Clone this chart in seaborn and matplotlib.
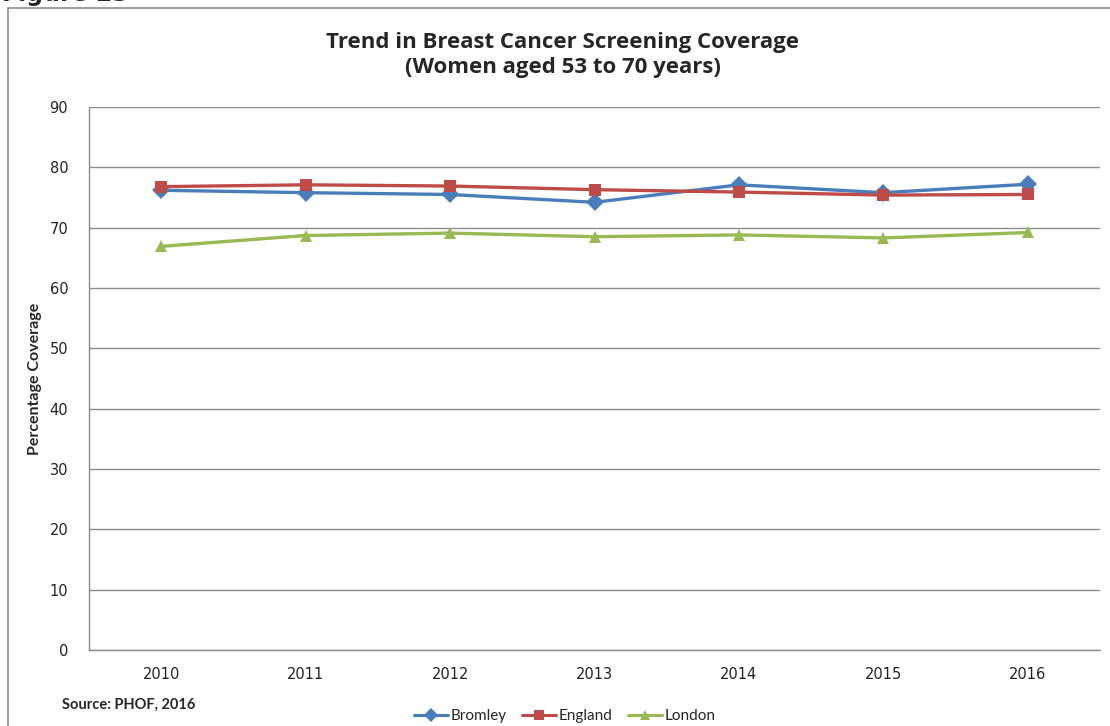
"""
Trend in breast cancer screening coverage, Bromley vs England vs London.
"""
import pandas as pd
import matplotlib.pyplot as plt
from matplotlib.patches import Rectangle
from matplotlib.ticker import FixedLocator
import seaborn as sns

years = [2010, 2011, 2012, 2013, 2014, 2015, 2016]
bromley = [76.2, 75.8, 75.5, 74.2, 77.1, 75.8, 77.2]
england = [76.8, 77.1, 76.9, 76.3, 75.9, 75.4, 75.5]
london = [66.9, 68.7, 69.1, 68.5, 68.8, 68.3, 69.2]
areas = ['Bromley', 'England', 'London']

df = pd.DataFrame({
    'year': years * 3,
    'coverage': bromley + england + london,
    'area': [a for a in areas for _ in years],
})

palette = {'Bromley': '#4A7EBB', 'England': '#BE4B48', 'London': '#98B954'}
markers = {'Bromley': 'D', 'England': 's', 'London': '^'}

sns.set_theme(style='white')
plt.rcParams['font.family'] = ['DejaVu Sans']

fig = plt.figure(figsize=(11.1, 7.26), dpi=100)
ax = fig.add_axes([89 / 1110, 1 - 650 / 726, (1100 - 89) / 1110, (650 - 107) / 726])

# outer chart frame, right/bottom edges fall outside the picture
fig.patches.append(Rectangle((8 / 1110, -0.05), 1.1, 1.05 - 8 / 726,
                             transform=fig.transFigure, fill=False,
                             edgecolor='#8c8c8c', linewidth=1.2))

sns.lineplot(data=df, x='year', y='coverage', hue='area', style='area',
             palette=palette, markers=markers, dashes=False, linewidth=2.4,
             markersize=9, markeredgewidth=0, ax=ax)

ax.set_xlim(2009.5, 2016.5)
ax.set_ylim(0, 90)
ax.set_yticks(range(0, 91, 10))
ax.set_xticks(years)
ax.set_xticklabels([str(y) for y in years])
ax.xaxis.set_minor_locator(FixedLocator([y - 0.5 for y in years] + [2016.5]))
ax.tick_params(axis='x', which='major', length=0, pad=12, labelsize=10.5, colors='#222222')
ax.tick_params(axis='x', which='minor', length=5, width=1, color='#8c8c8c', direction='out')
ax.tick_params(axis='y', which='major', length=5, width=1, color='#8c8c8c', direction='out',
               labelsize=10.5, colors='#222222', pad=10)
ax.grid(axis='y', color='#8c8c8c', linewidth=1)
ax.set_axisbelow(True)
for side in ['top', 'right']:
    ax.spines[side].set_visible(False)
for side in ['left', 'bottom']:
    ax.spines[side].set_color('#8c8c8c')
    ax.spines[side].set_linewidth(1)

ax.set_xlabel('')
ax.set_ylabel('Percentage Coverage', fontsize=11.5, fontweight='bold',
              family=['Lato', 'DejaVu Sans'])
ax.yaxis.set_label_coords(-0.046, 0.5)

fig.text(563 / 1110, 1 - 55 / 726,
         'Trend in Breast Cancer Screening Coverage\n(Women aged 53 to 70 years)',
         ha='center', va='center', fontsize=16, fontweight='bold',
         family=['Open Sans', 'DejaVu Sans'], linespacing=1.2)
fig.text(62 / 1110, 1 - 705 / 726, 'Source: PHOF, 2016', ha='left', va='center',
         fontsize=10.5, fontweight='bold', family=['Lato', 'DejaVu Sans'])
fig.text(2 / 1110, 1 + 6 / 726, 'Figure 23', ha='left', va='center',
         fontsize=17, fontweight='bold', family=['DejaVu Sans'])

leg = ax.legend(loc='center', bbox_to_anchor=(565 / 1110, 1 - 716 / 726),
                bbox_transform=fig.transFigure, ncol=3, frameon=False,
                handlelength=2.2, columnspacing=1.0, handletextpad=0.2,
                prop={'family': ['Lato', 'DejaVu Sans'], 'size': 11})
for line in leg.get_lines():
    line.set_linewidth(2.2)
    line.set_markersize(7)

fig.savefig('out.png', dpi=100)
